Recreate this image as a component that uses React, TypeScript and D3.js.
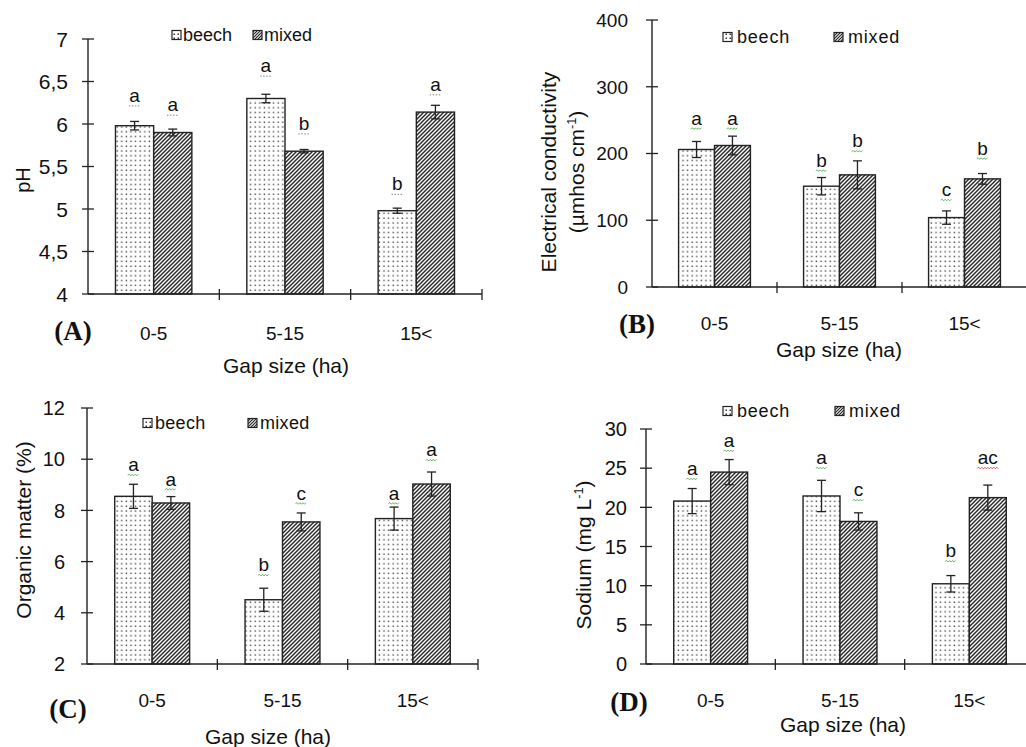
import * as d3 from "d3";
import React from "react";

// categories and series
const categories = ["0-5", "5-15", "15<"];
const seriesKeys = ["beech", "mixed"];

// (A) pH
const phBeech = [5.98, 6.3, 4.98];
const phBeechErr = [0.05, 0.05, 0.03];
const phMixed = [5.9, 5.68, 6.14];
const phMixedErr = [0.04, 0.02, 0.08];
const phBeechLetters = ["a", "a", "b"];
const phMixedLetters = ["a", "b", "a"];
const phBeechLetterAt = [6.26, 6.61, 5.22];
const phMixedLetterAt = [6.15, 5.93, 6.39];
const phTicks = [4, 4.5, 5, 5.5, 6, 6.5, 7];

// (B) electrical conductivity
const ecBeech = [206, 151, 104];
const ecBeechErr = [12, 13, 10];
const ecMixed = [212, 168, 162];
const ecMixedErr = [14, 21, 8];
const ecBeechLetters = ["a", "b", "c"];
const ecMixedLetters = ["a", "b", "b"];
const ecBeechLetterAt = [243, 180, 136];
const ecMixedLetterAt = [243, 209, 198];
const ecTicks = [0, 100, 200, 300, 400];

// (C) organic matter
const omBeech = [8.55, 4.51, 7.68];
const omBeechErr = [0.47, 0.45, 0.45];
const omMixed = [8.29, 7.55, 9.03];
const omMixedErr = [0.25, 0.35, 0.47];
const omBeechLetters = ["a", "b", "a"];
const omMixedLetters = ["a", "c", "a"];
const omBeechLetterAt = [9.53, 5.62, 8.42];
const omMixedLetterAt = [8.97, 8.42, 10.11];
const omTicks = [2, 4, 6, 8, 10, 12];

// (D) sodium
const naBeech = [20.8, 21.45, 10.24];
const naBeechErr = [1.6, 2.0, 1.05];
const naMixed = [24.5, 18.2, 21.24];
const naMixedErr = [1.6, 1.1, 1.6];
const naBeechLetters = ["a", "a", "b"];
const naMixedLetters = ["a", "c", "ac"];
const naBeechLetterAt = [24.1, 25.5, 13.6];
const naMixedLetterAt = [27.7, 21.4, 25.5];
const naTicks = [0, 5, 10, 15, 20, 25, 30];

const panelLabels = ["(A)", "(B)", "(C)", "(D)"];
const xTitle = "Gap size (ha)";

const SANS = "'Liberation Sans', Arial, sans-serif";
const SERIF = "'Liberation Serif', 'Times New Roman', serif";
const INK = "#222";

const panels = [
  {
    tag: panelLabels[0],
    beech: phBeech, beechErr: phBeechErr, mixed: phMixed, mixedErr: phMixedErr,
    beechLetters: phBeechLetters, mixedLetters: phMixedLetters,
    beechLetterAt: phBeechLetterAt, mixedLetterAt: phMixedLetterAt,
    ticks: phTicks, fmt: (v: number) => String(v).replace(".", ","),
    title: [{ text: "pH", x: 30 }], titleY: 180, titleFont: 20,
    lay: { x0: 88, x1: 482, yTop: 39, yBot: 294, pad: 0.72, tickFont: 21, tickGap: 20, catY: 340,
      tagX: 73, tagY: 340, gapX: 286, gapY: 373, legendY: 35, legendX: [172, 253], legendDx: 11,
      legendSpacing: 0, squiggle: "dots" },
  },
  {
    tag: panelLabels[1],
    beech: ecBeech, beechErr: ecBeechErr, mixed: ecMixed, mixedErr: ecMixedErr,
    beechLetters: ecBeechLetters, mixedLetters: ecMixedLetters,
    beechLetterAt: ecBeechLetterAt, mixedLetterAt: ecMixedLetterAt,
    ticks: ecTicks, fmt: (v: number) => String(v),
    title: [{ text: "Electrical conductivity", x: 556 }, { text: "(µmhos  cm", sup: "-1", end: ")", x: 584 }],
    titleY: 172, titleFont: 21,
    lay: { x0: 652, x1: 1027, yTop: 20, yBot: 287, pad: 0.74, tickFont: 19, tickGap: 24, catY: 330,
      tagX: 637, tagY: 333, gapX: 839, gapY: 357, legendY: 37, legendX: [723, 834], legendDx: 14,
      legendSpacing: 0.8, squiggle: "wave" },
  },
  {
    tag: panelLabels[2],
    beech: omBeech, beechErr: omBeechErr, mixed: omMixed, mixedErr: omMixedErr,
    beechLetters: omBeechLetters, mixedLetters: omMixedLetters,
    beechLetterAt: omBeechLetterAt, mixedLetterAt: omMixedLetterAt,
    ticks: omTicks, fmt: (v: number) => String(v),
    title: [{ text: "Organic matter  (%)", x: 31 }], titleY: 530, titleFont: 21,
    lay: { x0: 87, x1: 478, yTop: 408, yBot: 664, pad: 0.74, tickFont: 20, tickGap: 22, catY: 707,
      tagX: 68, tagY: 718, gapX: 268, gapY: 744, legendY: 423, legendX: [143, 248], legendDx: 12,
      legendSpacing: 0.3, squiggle: "wave" },
  },
  {
    tag: panelLabels[3],
    beech: naBeech, beechErr: naBeechErr, mixed: naMixed, mixedErr: naMixedErr,
    beechLetters: naBeechLetters, mixedLetters: naMixedLetters,
    beechLetterAt: naBeechLetterAt, mixedLetterAt: naMixedLetterAt,
    ticks: naTicks, fmt: (v: number) => String(v),
    title: [{ text: "Sodium (mg L", sup: "-1", end: ")", x: 591 }], titleY: 555, titleFont: 21,
    lay: { x0: 646, x1: 1034, yTop: 429, yBot: 664, pad: 0.75, tickFont: 20, tickGap: 19, catY: 707,
      tagX: 629, tagY: 711, gapX: 843, gapY: 732, legendY: 411, legendX: [723, 835], legendDx: 14,
      legendSpacing: 0.8, squiggle: "wave" },
  },
];

function wavePath(cx: number, y: number, w: number) {
  let d = `M${cx - w / 2},${y}`;
  let up = true;
  for (let x = cx - w / 2 + 1.5; x <= cx + w / 2 + 0.01; x += 1.5) {
    d += ` L${x},${up ? y - 1 : y + 0.6}`;
    up = !up;
  }
  return d;
}

function Panel({ p }: { p: (typeof panels)[number] }) {
  const L = p.lay;
  const x = d3.scaleBand<string>().domain(categories).range([L.x0, L.x1]);
  const inner = d3.scaleBand<string>().domain(seriesKeys).range([0, x.bandwidth()]).paddingInner(0).paddingOuter(L.pad);
  const y = d3.scaleLinear().domain(d3.extent(p.ticks) as [number, number]).range([L.yBot, L.yTop]);
  const y0 = y.domain()[0];

  const series = [
    { key: "beech", vals: p.beech, errs: p.beechErr, letters: p.beechLetters, at: p.beechLetterAt, fill: "url(#dots)" },
    { key: "mixed", vals: p.mixed, errs: p.mixedErr, letters: p.mixedLetters, at: p.mixedLetterAt, fill: "url(#hatch)" },
  ];

  const catTicks = [...categories.map((c) => x(c)!), L.x1];

  return (
    <g>
      {/* bars */}
      {series.map((s) =>
        categories.map((c, i) => {
          const bx = x(c)! + inner(s.key)!;
          const bw = inner.bandwidth();
          const cx = bx + bw / 2;
          const letterY = y(s.at[i]);
          const lw = s.letters[i].length * 9.5 + 2;
          return (
            <g key={s.key + c}>
              <rect x={bx} y={y(s.vals[i])} width={bw} height={y(y0) - y(s.vals[i])}
                fill="#fff" />
              <rect x={bx} y={y(s.vals[i])} width={bw} height={y(y0) - y(s.vals[i])}
                fill={s.fill} stroke={INK} strokeWidth={1.4} />
              <line x1={cx} x2={cx} y1={y(s.vals[i] + s.errs[i])} y2={y(s.vals[i] - s.errs[i])} stroke={INK} strokeWidth={1.3} />
              <line x1={cx - 4.5} x2={cx + 4.5} y1={y(s.vals[i] + s.errs[i])} y2={y(s.vals[i] + s.errs[i])} stroke={INK} strokeWidth={1.3} />
              <line x1={cx - 4.5} x2={cx + 4.5} y1={y(s.vals[i] - s.errs[i])} y2={y(s.vals[i] - s.errs[i])} stroke={INK} strokeWidth={1.3} />
              <text x={cx} y={letterY} textAnchor="middle" fontFamily={SANS} fontSize={19} fill="#111">
                {s.letters[i]}
              </text>
              {L.squiggle === "dots" ? (
                <line x1={cx - lw / 2} x2={cx + lw / 2} y1={letterY + 4} y2={letterY + 4}
                  stroke="#888" strokeWidth={1} strokeDasharray="1.5,1.5" />
              ) : (
                <path d={wavePath(cx, letterY + 4, lw)} fill="none"
                  stroke={s.letters[i].length > 1 ? "#d44" : "#5a5"} strokeWidth={0.9} />
              )}
            </g>
          );
        })
      )}

      {/* y axis */}
      <line x1={L.x0} x2={L.x0} y1={L.yBot} y2={L.yTop} stroke={INK} strokeWidth={1.4} />
      {p.ticks.map((t) => (
        <g key={"t" + t}>
          <line x1={L.x0 - 6} x2={L.x0 + 6} y1={y(t)} y2={y(t)} stroke={INK} strokeWidth={1.3} />
          <text x={L.x0 - L.tickGap} y={y(t)} dy="0.36em" textAnchor="end" fontFamily={SANS} fontSize={L.tickFont} fill="#111">
            {p.fmt(t)}
          </text>
        </g>
      ))}

      {/* x axis */}
      <line x1={L.x0} x2={L.x1} y1={L.yBot} y2={L.yBot} stroke={INK} strokeWidth={1.4} />
      {catTicks.slice(1).map((tx, i) => (
        <line key={"c" + i} x1={tx} x2={tx} y1={L.yBot - 5} y2={L.yBot + 6} stroke={INK} strokeWidth={1.3} />
      ))}
      {categories.map((c) => (
        <text key={"l" + c} x={x(c)! + x.bandwidth() / 2} y={L.catY} textAnchor="middle" fontFamily={SANS} fontSize={19} fill="#111">
          {c}
        </text>
      ))}
      <text x={L.gapX} y={L.gapY} textAnchor="middle" fontFamily={SANS} fontSize={21} fill="#111">
        {xTitle}
      </text>
      <text x={L.tagX} y={L.tagY} textAnchor="middle" fontFamily={SERIF} fontWeight="bold" fontSize={27} fill="#111">
        {p.tag}
      </text>

      {/* y title */}
      {p.title.map((t, i) => (
        <text key={"yt" + i} transform={`translate(${t.x},${p.titleY}) rotate(-90)`} textAnchor="middle"
          fontFamily={SANS} fontSize={p.titleFont} fill="#111">
          {t.text}
          {t.sup && (
            <tspan fontSize={p.titleFont * 0.6} dy={-p.titleFont * 0.4}>{t.sup}</tspan>
          )}
          {t.end && <tspan dy={p.titleFont * 0.4}>{t.end}</tspan>}
        </text>
      ))}

      {/* legend */}
      {seriesKeys.map((k, i) => (
        <g key={"lg" + k}>
          <rect x={L.legendX[i]} y={L.legendY - 4.5} width={9} height={9} fill="#fff" />
          <rect x={L.legendX[i]} y={L.legendY - 4.5} width={9} height={9}
            fill={k === "beech" ? "url(#dotsSmall)" : "url(#hatchSmall)"} stroke={INK} strokeWidth={1.2} />
          <text x={L.legendX[i] + L.legendDx} y={L.legendY} dy="0.36em" fontFamily={SANS} fontSize={18}
            letterSpacing={L.legendSpacing} fill="#111">
            {k}
          </text>
        </g>
      ))}
    </g>
  );
}

export default function App() {
  return (
    <svg width={1026} height={747} style={{ position: "absolute", left: 0, top: 0, background: "#fff" }}>
      <defs>
        <pattern id="dots" patternUnits="userSpaceOnUse" width={4.6} height={4.8}>
          <rect x={1.5} y={1.5} width={1.4} height={1.4} fill="#444" />
        </pattern>
        <pattern id="hatch" patternUnits="userSpaceOnUse" width={4} height={4}>
          <path d="M-1,1 l2,-2 M0,4 l4,-4 M3,5 l2,-2" stroke="#2a2a2a" strokeWidth={1.5} />
        </pattern>
        <pattern id="dotsSmall" patternUnits="userSpaceOnUse" width={4} height={4}>
          <rect x={1.5} y={1.5} width={1.5} height={1.5} fill="#333" />
        </pattern>
        <pattern id="hatchSmall" patternUnits="userSpaceOnUse" width={3} height={3}>
          <path d="M-1,1 l2,-2 M0,3 l3,-3 M2,4 l2,-2" stroke="#222" strokeWidth={1.2} />
        </pattern>
      </defs>
      <rect width={1026} height={747} fill="#fff" />
      {panels.map((p) => (
        <Panel key={p.tag} p={p} />
      ))}
    </svg>
  );
}
